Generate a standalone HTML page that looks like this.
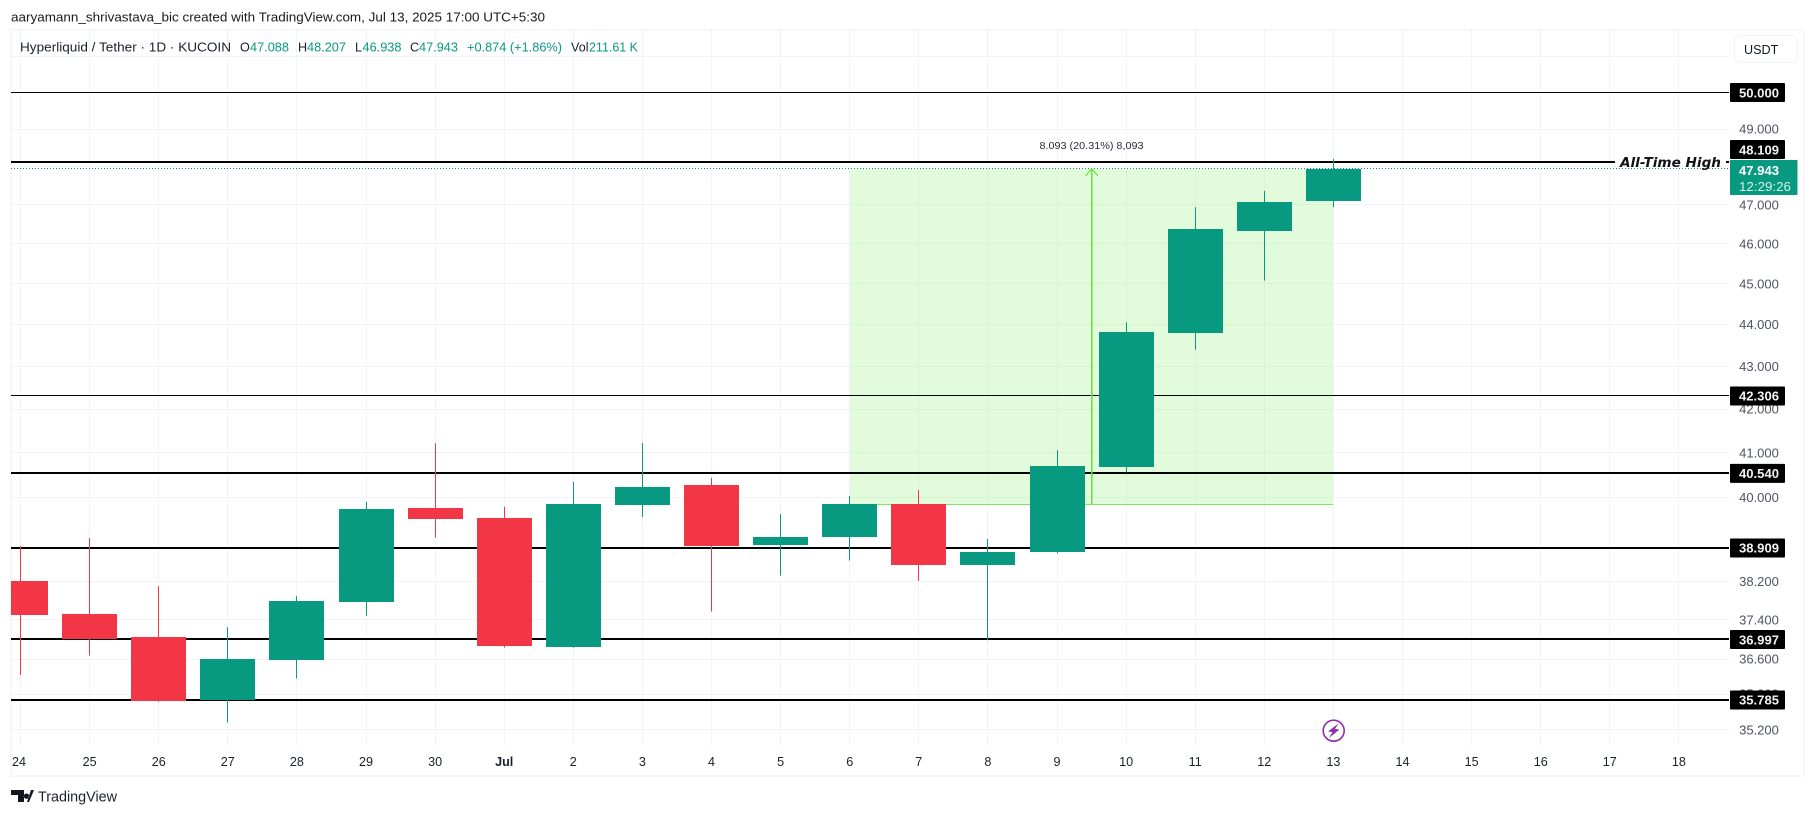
<!DOCTYPE html>
<html lang="en">
<head>
<meta charset="utf-8">
<title>Hyperliquid / Tether chart</title>
<style>
html,body{margin:0;padding:0;background:#fff;width:1814px;height:816px;overflow:hidden}
svg{display:block;font-family:"Liberation Sans",sans-serif}
</style>
</head>
<body>
<svg id="chart" xmlns="http://www.w3.org/2000/svg" width="1814" height="816" viewBox="0 0 1814 816">
  <defs><clipPath id="plot-clip"><rect x="11" y="30" width="1718" height="715"/></clipPath></defs>
  <rect x="0" y="0" width="1814" height="816" fill="#ffffff"/>
  <text x="11" y="21.5" font-size="12.6" fill="#1a1a1a" textLength="534" lengthAdjust="spacingAndGlyphs">aaryamann_shrivastava_bic created with TradingView.com, Jul 13, 2025 17:00 UTC+5:30</text>
  <rect x="11" y="30" width="1793" height="746" fill="none" stroke="#f7f7f7" stroke-width="2"/>
  <g id="grid"></g>
  <g id="tool-under"></g>
  <g id="levels" clip-path="url(#plot-clip)"></g>
  <g id="candles" clip-path="url(#plot-clip)"></g>
  <g id="tool-over"></g>
  <g id="time-axis"></g>
  <g id="price-axis"></g>
  <g id="level-labels"></g>

  <g font-size="12.6" fill="#1a1f2b">
    <text x="20" y="51.5" textLength="211" lengthAdjust="spacingAndGlyphs">Hyperliquid / Tether · 1D · KUCOIN</text>
    <text x="240" y="51.5">O</text>
    <text x="250" y="51.5" fill="#089981" textLength="39" lengthAdjust="spacingAndGlyphs">47.088</text>
    <text x="298" y="51.5">H</text>
    <text x="307" y="51.5" fill="#089981" textLength="39" lengthAdjust="spacingAndGlyphs">48.207</text>
    <text x="355" y="51.5">L</text>
    <text x="362.5" y="51.5" fill="#089981" textLength="39" lengthAdjust="spacingAndGlyphs">46.938</text>
    <text x="410" y="51.5">C</text>
    <text x="419" y="51.5" fill="#089981" textLength="39" lengthAdjust="spacingAndGlyphs">47.943</text>
    <text x="467" y="51.5" fill="#089981" textLength="95" lengthAdjust="spacingAndGlyphs">+0.874 (+1.86%)</text>
    <text x="571" y="51.5">Vol</text>
    <text x="589" y="51.5" fill="#089981" textLength="49" lengthAdjust="spacingAndGlyphs">211.61 K</text>
  </g>

  <g>
    <rect x="1734.5" y="35.5" width="63" height="27" rx="6" fill="#fff" stroke="#f0f3fa"/>
    <text x="1744" y="54" font-size="12.6" fill="#131722">USDT</text>
  </g>

  <g>
    <text x="1620" y="167" font-family="'DejaVu Sans',sans-serif" font-size="13" font-style="italic" font-weight="bold" fill="#111" textLength="101" lengthAdjust="spacingAndGlyphs">All-Time High</text>
    <rect x="1726" y="161" width="3" height="2" fill="#000"/>
  </g>

  <g id="last-price-group"></g>

  <g>
    <circle cx="1333.7" cy="730.7" r="10.5" fill="#fff" stroke="#8e2ea8" stroke-width="1.6"/>
    <polygon points="1338.5,723.5 1328,731.5 1332.5,732 1329,738 1339.5,729.5 1335,729" fill="#8e2ea8"/>
  </g>

  <g>
    <path d="M11 790h13v12h-6v-7h-7zM26.5 793.5a2.7 2.7 0 1 0 0.01 0zM27 802l4-12h3l-5 12z" fill="#131722"/>
    <text x="38" y="801.5" font-size="15" fill="#1d212b" textLength="79" lengthAdjust="spacingAndGlyphs">TradingView</text>
  </g>
</svg>

<script>
// ---- chart data ----
const dayLabels = ["24","25","26","27","28","29","30","Jul","2","3","4","5","6","7","8","9","10","11","12","13","14","15","16","17","18"];
const openPrices  = [38.21,37.52,37.05,35.78,36.59,37.77,39.77,39.56,36.85,39.85,40.28,38.98,39.15,39.86,38.55,38.83,40.69,43.80,46.34,47.088];
const highPrices  = [38.95,39.12,38.10,37.25,37.89,39.91,41.22,39.80,40.35,41.22,40.44,39.64,40.04,40.17,39.10,41.06,44.06,46.94,47.36,48.207];
const lowPrices   = [36.28,36.67,35.75,35.34,36.21,37.48,39.13,36.83,36.83,39.58,37.57,38.32,38.64,38.21,36.98,38.79,40.56,43.40,45.08,46.938];
const closePrices = [37.50,37.01,35.76,36.60,37.79,39.75,39.54,36.87,39.86,40.24,38.96,39.14,39.86,38.55,38.82,40.70,43.82,46.38,47.07,47.943];
const priceTicks  = [51,49,48,47,46,45,44,43,42,41,40,38.2,37.4,36.6,35.9,35.2];
const priceTickLabels = ["","49.000","","47.000","46.000","45.000","44.000","43.000","42.000","41.000","40.000","38.200","37.400","36.600","35.800","35.200"];
const levelPrices = [50,48.109,42.306,40.54,38.909,36.997,35.785];
const levelWeights = [1,2,1,2,2,2,2];
const levelLabels = ["50.000","48.109","42.306","40.540","38.909","36.997","35.785"];
const lastPrice = 47.943;
const lastPriceLabel = "47.943";
const countdownLabel = "12:29:26";
const rangeStartIndex = 12;
const rangeEndIndex = 19;
const rangeLow = 39.85;
const rangeHigh = 47.943;
const rangeLabel = "8.093 (20.31%) 8,093";

// ---- axis functions ----
function xAt(i){ return 20.5 + 69.1 * i; }
function yAt(p){ return 92.5 + 1816 * Math.log(50 / p); }
function snap(v, w){ return (w % 2) ? Math.floor(v) + 0.5 : Math.round(v - 0.2); }

const NS = "http://www.w3.org/2000/svg";
const UP = "#089981", DOWN = "#f23645", GRID = "#f1f3f7";
function make(tag, attrs, parent){
  const e = document.createElementNS(NS, tag);
  for (const k in attrs) e.setAttribute(k, attrs[k]);
  parent.appendChild(e);
  return e;
}

// grid
const gridG = document.getElementById("grid");
priceTicks.forEach(function(p){
  const y = snap(yAt(p), 1);
  const l = make("line", {x1:11, x2:1729, y1:y, y2:y, stroke:GRID, "stroke-width":1}, gridG);
  
  
});
dayLabels.forEach(function(d, i){
  const x = snap(xAt(i), 1);
  const l = make("line", {x1:x, x2:x, y1:30, y2:745, stroke:GRID, "stroke-width":1}, gridG);
  
  
});

// range tool background
const toolUnder = document.getElementById("tool-under");
const rx0 = Math.round(xAt(rangeStartIndex)), rx1 = Math.round(xAt(rangeEndIndex));
const ry0 = yAt(rangeHigh), ry1 = snap(yAt(rangeLow), 1);
const rangeRect = make("rect", {x:rx0, y:ry0, width:rx1-rx0, height:ry1-ry0, fill:"rgba(76,237,32,0.16)"}, toolUnder);


const rangeBase = make("line", {x1:rx0, x2:rx1, y1:ry1, y2:ry1, stroke:"#80e860", "stroke-width":1}, toolUnder);


const rangeText = make("text", {x:(rx0+rx1)/2, y:ry0-20, "text-anchor":"middle", "font-size":10.4, fill:"#2a2e39", textLength:104, lengthAdjust:"spacingAndGlyphs"}, toolUnder);


rangeText.textContent = rangeLabel;

// horizontal levels
const levelsG = document.getElementById("levels");
levelPrices.forEach(function(p, i){
  const w = levelWeights[i];
  const y = snap(yAt(p), w);
  const x2 = p === 48.109 ? 1615 : 1729;
  const l = make("line", {x1:11, x2:x2, y1:y, y2:y, stroke:"#000", "stroke-width":w}, levelsG);
  
  
});

// last price dotted line
const lastY = snap(yAt(lastPrice), 1);
const dotted = make("line", {x1:11, x2:1729, y1:lastY, y2:lastY, stroke:"#089981", "stroke-width":1, "stroke-dasharray":"1 2"}, levelsG);



// candles
const candlesG = document.getElementById("candles");
closePrices.forEach(function(c, i){
  const o = openPrices[i], h = highPrices[i], lo = lowPrices[i];
  const col = c >= o ? UP : DOWN;
  const x = snap(xAt(i), 1);
  const wick = make("line", {x1:x, x2:x, y1:yAt(h), y2:yAt(lo), stroke:col, "stroke-width":1}, candlesG);
  
  
  const top = Math.round(yAt(Math.max(o, c))), bot = Math.round(yAt(Math.min(o, c)));
  const body = make("rect", {x:Math.round(xAt(i)-27.5), y:top, width:55, height:bot-top, fill:col}, candlesG);
  
  
});

// range arrow (over levels)
const toolOver = document.getElementById("tool-over");
const ax = (rx0 + rx1) / 2 + 0.3;
const arrowLine = make("line", {x1:ax, x2:ax, y1:ry1, y2:ry0, stroke:"#66e03c", "stroke-width":1.5}, toolOver);


const arrowHead = make("polyline", {points:[ax-6,ry0+7,ax,ry0,ax+6,ry0+7].join(" "), fill:"none", stroke:"#66e03c", "stroke-width":1.2}, toolOver);



// time axis
const timeG = document.getElementById("time-axis");
dayLabels.forEach(function(d, i){
  const t = make("text", {x:xAt(i)-(i===0?1.5:0), y:766, "text-anchor":"middle", "font-size":12.6, fill:"#1a1f2b", "font-weight":d==="Jul"?"bold":"normal"}, timeG);
  
  
  t.textContent = d;
});

// price axis
const priceG = document.getElementById("price-axis");
priceTicks.forEach(function(p, i){
  if (!priceTickLabels[i]) return;
  const t = make("text", {x:1759, y:yAt(p)+4.5, "text-anchor":"middle", "font-size":13, fill:"#50535e"}, priceG);
  
  
  t.textContent = priceTickLabels[i];
});

// last price box geometry, used to push overlapping level labels upward
const lastBoxTop = Math.round(yAt(lastPrice)) - 9;
const lastBoxHeight = 35;

// level labels
const labelG = document.getElementById("level-labels");
levelPrices.forEach(function(p, i){
  let y = yAt(p);
  if (p > lastPrice && y + 9.5 > lastBoxTop) y = lastBoxTop - 10.5;
  const r = make("rect", {x:1730, y:y-9.5, width:55, height:19, rx:1, fill:"#000"}, labelG);
  
  
  const t = make("text", {x:1759, y:y+4.8, "text-anchor":"middle", "font-size":13, "font-weight":"bold", fill:"#f2f2f2", textLength:40, lengthAdjust:"spacingAndGlyphs"}, labelG);
  
  
  t.textContent = levelLabels[i];
});

// last price label
const lastG = document.getElementById("last-price-group");
const lastBox = make("rect", {x:1730, y:lastBoxTop, width:67.5, height:lastBoxHeight, rx:1, fill:"#089981"}, lastG);


const lastText = make("text", {x:1739, y:lastBoxTop+15, "font-size":12.8, "font-weight":"bold", fill:"#fff", textLength:40, lengthAdjust:"spacingAndGlyphs"}, lastG);


lastText.textContent = lastPriceLabel;
const countText = make("text", {x:1739, y:lastBoxTop+31, "font-size":12.8, fill:"#d5f0ea", textLength:52, lengthAdjust:"spacingAndGlyphs"}, lastG);


countText.textContent = countdownLabel;
</script>
</body>
</html>
